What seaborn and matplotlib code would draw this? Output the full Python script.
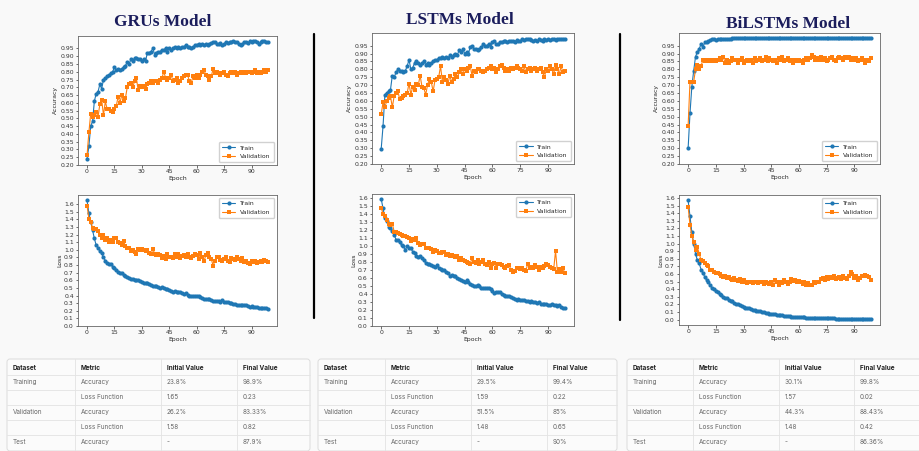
import numpy as np
import pandas as pd
import matplotlib
matplotlib.use("Agg")
import matplotlib.pyplot as plt
from matplotlib.patches import FancyBboxPatch
import seaborn as sns

# ---------------- training histories (100 epochs each) ----------------
gru_train_acc = [
    0.238, 0.32, 0.45, 0.48, 0.61, 0.66, 0.67, 0.72, 0.69, 0.75,
    0.76, 0.77, 0.78, 0.79, 0.80, 0.83, 0.81, 0.82, 0.81, 0.82,
    0.83, 0.84, 0.86, 0.85, 0.88, 0.87, 0.89, 0.89, 0.88, 0.88,
    0.87, 0.88, 0.87, 0.92, 0.92, 0.93, 0.95, 0.91, 0.92, 0.93,
    0.93, 0.94, 0.94, 0.95, 0.93, 0.95, 0.94, 0.95, 0.96, 0.95,
    0.96, 0.95, 0.96, 0.96, 0.97, 0.96, 0.96, 0.95, 0.96, 0.97,
    0.97, 0.98, 0.97, 0.98, 0.97, 0.98, 0.97, 0.98, 0.985, 0.99,
    0.99, 0.98, 0.98, 0.985, 0.97, 0.98, 0.99, 0.985, 0.99, 0.99,
    0.995, 0.99, 0.99, 0.98, 0.97, 0.98, 0.99, 0.99, 0.985, 0.995,
    0.99, 1.00, 0.995, 0.99, 0.98, 0.99, 1.00, 0.995, 0.99, 0.989,
]
gru_val_acc = [
    0.262, 0.41, 0.53, 0.51, 0.52, 0.54, 0.51, 0.59, 0.62, 0.52,
    0.61, 0.56, 0.56, 0.55, 0.54, 0.56, 0.58, 0.64, 0.60, 0.65,
    0.61, 0.63, 0.70, 0.72, 0.73, 0.70, 0.74, 0.76, 0.68, 0.71,
    0.70, 0.71, 0.69, 0.72, 0.73, 0.74, 0.73, 0.74, 0.74, 0.73,
    0.75, 0.76, 0.80, 0.76, 0.75, 0.76, 0.78, 0.74, 0.75, 0.76,
    0.73, 0.74, 0.76, 0.77, 0.78, 0.78, 0.74, 0.73, 0.77, 0.76,
    0.78, 0.76, 0.78, 0.80, 0.81, 0.78, 0.77, 0.75, 0.77, 0.82,
    0.79, 0.80, 0.79, 0.78, 0.79, 0.80, 0.78, 0.77, 0.79, 0.80,
    0.79, 0.80, 0.78, 0.79, 0.80, 0.79, 0.80, 0.79, 0.80, 0.80,
    0.79, 0.80, 0.81, 0.79, 0.80, 0.79, 0.80, 0.81, 0.80, 0.81,
]
gru_train_loss = [
    1.65, 1.48, 1.37, 1.26, 1.15, 1.06, 1.03, 0.99, 0.96, 0.90,
    0.86, 0.83, 0.82, 0.81, 0.78, 0.76, 0.74, 0.71, 0.70, 0.69,
    0.67, 0.65, 0.64, 0.63, 0.62, 0.62, 0.60, 0.61, 0.60, 0.59,
    0.58, 0.57, 0.56, 0.56, 0.55, 0.54, 0.53, 0.52, 0.52, 0.51,
    0.50, 0.51, 0.50, 0.49, 0.48, 0.47, 0.46, 0.45, 0.46, 0.45,
    0.44, 0.44, 0.43, 0.42, 0.43, 0.41, 0.40, 0.39, 0.39, 0.40,
    0.40, 0.39, 0.38, 0.37, 0.36, 0.36, 0.35, 0.35, 0.34, 0.33,
    0.33, 0.33, 0.33, 0.32, 0.34, 0.32, 0.31, 0.31, 0.30, 0.30,
    0.29, 0.29, 0.28, 0.28, 0.27, 0.28, 0.28, 0.27, 0.26, 0.25,
    0.26, 0.25, 0.25, 0.25, 0.24, 0.24, 0.24, 0.23, 0.23, 0.22,
]
gru_val_loss = [
    1.58, 1.41, 1.37, 1.29, 1.28, 1.27, 1.25, 1.19, 1.15, 1.20,
    1.13, 1.15, 1.10, 1.13, 1.10, 1.15, 1.16, 1.10, 1.09, 1.07,
    1.11, 1.05, 1.03, 1.02, 0.98, 1.00, 0.97, 0.95, 1.01, 1.00,
    1.01, 1.00, 0.98, 1.00, 0.96, 0.94, 1.01, 0.95, 0.93, 0.94,
    0.93, 0.89, 0.92, 0.88, 0.94, 0.90, 0.91, 0.89, 0.95, 0.91,
    0.94, 0.89, 0.92, 0.93, 0.90, 0.94, 0.91, 0.89, 0.92, 0.95,
    0.93, 0.88, 0.96, 0.90, 0.85, 0.93, 0.96, 0.91, 0.88, 0.79,
    0.86, 0.91, 0.90, 0.87, 0.85, 0.88, 0.90, 0.86, 0.84, 0.89,
    0.88, 0.87, 0.90, 0.88, 0.86, 0.89, 0.84, 0.86, 0.83, 0.82,
    0.85, 0.84, 0.85, 0.83, 0.84, 0.85, 0.84, 0.87, 0.86, 0.84,
]

lstm_train_acc = [
    0.295, 0.44, 0.64, 0.65, 0.66, 0.67, 0.76, 0.75, 0.78, 0.80,
    0.79, 0.79, 0.78, 0.79, 0.82, 0.86, 0.80, 0.81, 0.84, 0.85,
    0.84, 0.83, 0.84, 0.85, 0.83, 0.84, 0.83, 0.84, 0.85, 0.86,
    0.86, 0.87, 0.87, 0.88, 0.87, 0.88, 0.87, 0.89, 0.88, 0.89,
    0.90, 0.89, 0.92, 0.91, 0.93, 0.90, 0.91, 0.90, 0.94, 0.95,
    0.93, 0.93, 0.92, 0.93, 0.94, 0.96, 0.95, 0.95, 0.96, 0.94,
    0.97, 0.98, 0.96, 0.96, 0.97, 0.97, 0.98, 0.98, 0.97, 0.98,
    0.98, 0.98, 0.975, 0.985, 0.98, 0.98, 0.99, 0.985, 0.99, 0.995,
    0.99, 0.985, 0.98, 0.985, 0.98, 0.99, 0.985, 0.98, 0.99, 0.985,
    0.99, 0.985, 0.99, 0.99, 0.985, 0.99, 0.995, 0.99, 0.99, 0.994,
]
lstm_val_acc = [
    0.515, 0.59, 0.56, 0.60, 0.62, 0.63, 0.56, 0.63, 0.65, 0.66,
    0.61, 0.62, 0.63, 0.64, 0.65, 0.71, 0.64, 0.69, 0.67, 0.71,
    0.70, 0.76, 0.69, 0.68, 0.64, 0.70, 0.74, 0.72, 0.66, 0.73,
    0.74, 0.75, 0.82, 0.72, 0.75, 0.73, 0.71, 0.76, 0.72, 0.74,
    0.77, 0.75, 0.78, 0.80, 0.77, 0.80, 0.79, 0.81, 0.82, 0.76,
    0.79, 0.78, 0.80, 0.80, 0.79, 0.78, 0.79, 0.80, 0.81, 0.82,
    0.80, 0.81, 0.78, 0.80, 0.82, 0.83, 0.81, 0.79, 0.80, 0.79,
    0.81, 0.80, 0.81, 0.82, 0.81, 0.80, 0.79, 0.82, 0.78, 0.80,
    0.81, 0.79, 0.80, 0.81, 0.79, 0.80, 0.81, 0.78, 0.75, 0.80,
    0.79, 0.82, 0.80, 0.77, 0.83, 0.80, 0.77, 0.82, 0.78, 0.79,
]
lstm_train_loss = [
    1.59, 1.47, 1.35, 1.31, 1.24, 1.22, 1.19, 1.14, 1.08, 1.07,
    1.05, 1.01, 1.00, 0.95, 1.00, 0.97, 0.97, 0.93, 0.91, 0.88,
    0.86, 0.87, 0.85, 0.82, 0.79, 0.77, 0.78, 0.76, 0.75, 0.74,
    0.76, 0.72, 0.71, 0.70, 0.70, 0.68, 0.66, 0.63, 0.64, 0.63,
    0.62, 0.60, 0.59, 0.57, 0.56, 0.55, 0.57, 0.55, 0.53, 0.51,
    0.50, 0.50, 0.51, 0.50, 0.48, 0.47, 0.48, 0.47, 0.48, 0.46,
    0.44, 0.41, 0.43, 0.42, 0.42, 0.40, 0.39, 0.38, 0.37, 0.38,
    0.36, 0.35, 0.34, 0.33, 0.34, 0.33, 0.32, 0.32, 0.31, 0.31,
    0.30, 0.31, 0.30, 0.30, 0.29, 0.30, 0.28, 0.28, 0.27, 0.27,
    0.26, 0.26, 0.27, 0.26, 0.26, 0.25, 0.26, 0.24, 0.23, 0.22,
]
lstm_val_loss = [
    1.48, 1.40, 1.38, 1.33, 1.28, 1.26, 1.28, 1.18, 1.17, 1.16,
    1.15, 1.14, 1.13, 1.12, 1.11, 1.10, 1.06, 1.09, 1.07, 1.10,
    1.04, 1.01, 1.02, 1.03, 0.98, 0.97, 0.98, 0.96, 0.92, 0.95,
    0.94, 0.91, 0.91, 0.92, 0.93, 0.89, 0.90, 0.88, 0.89, 0.87,
    0.86, 0.87, 0.82, 0.85, 0.83, 0.81, 0.80, 0.79, 0.78, 0.85,
    0.80, 0.79, 0.83, 0.78, 0.80, 0.82, 0.77, 0.76, 0.80, 0.72,
    0.78, 0.79, 0.72, 0.77, 0.78, 0.76, 0.74, 0.73, 0.75, 0.76,
    0.70, 0.68, 0.69, 0.72, 0.73, 0.71, 0.72, 0.70, 0.69, 0.78,
    0.73, 0.74, 0.72, 0.76, 0.74, 0.70, 0.74, 0.73, 0.75, 0.78,
    0.76, 0.74, 0.72, 0.71, 0.94, 0.68, 0.71, 0.68, 0.72, 0.66,
]

bilstm_train_acc = [
    0.301, 0.52, 0.69, 0.79, 0.88, 0.91, 0.93, 0.96, 0.94, 0.97,
    0.975, 0.98, 0.985, 0.99, 0.99, 0.985, 0.99, 0.99, 0.995, 0.99,
    0.995, 0.99, 0.995, 0.995, 0.997, 0.997, 0.997, 0.997, 0.997, 0.997,
    0.997, 0.998, 0.997, 0.997, 0.998, 0.997, 0.997, 0.997, 0.998, 0.997,
    0.997, 0.997, 0.998, 0.997, 0.997, 0.997, 0.998, 0.997, 0.997, 0.998,
    0.997, 0.997, 0.997, 0.998, 0.997, 0.997, 0.998, 0.997, 0.997, 0.997,
    0.998, 0.997, 0.997, 0.998, 0.997, 0.997, 0.997, 0.998, 0.997, 0.997,
    0.998, 0.997, 0.997, 0.997, 0.998, 0.997, 0.997, 0.998, 0.997, 0.997,
    0.997, 0.998, 0.997, 0.997, 0.998, 0.997, 0.997, 0.997, 0.998, 0.997,
    0.997, 0.998, 0.997, 0.997, 0.997, 0.998, 0.997, 0.997, 0.998, 0.998,
]
bilstm_val_acc = [
    0.443, 0.72, 0.72, 0.72, 0.80, 0.83, 0.80, 0.82, 0.86, 0.85,
    0.86, 0.85, 0.86, 0.85, 0.86, 0.85, 0.86, 0.87, 0.86, 0.88,
    0.84, 0.86, 0.84, 0.85, 0.87, 0.86, 0.86, 0.84, 0.86, 0.87,
    0.84, 0.85, 0.86, 0.85, 0.86, 0.84, 0.87, 0.85, 0.86, 0.87,
    0.85, 0.86, 0.88, 0.85, 0.87, 0.86, 0.85, 0.86, 0.84, 0.87,
    0.86, 0.88, 0.85, 0.86, 0.87, 0.85, 0.86, 0.84, 0.86, 0.85,
    0.86, 0.85, 0.84, 0.86, 0.87, 0.86, 0.87, 0.89, 0.88, 0.86,
    0.87, 0.86, 0.88, 0.86, 0.87, 0.85, 0.86, 0.87, 0.88, 0.86,
    0.85, 0.87, 0.88, 0.87, 0.86, 0.88, 0.87, 0.88, 0.86, 0.87,
    0.86, 0.87, 0.85, 0.86, 0.87, 0.86, 0.84, 0.86, 0.85, 0.87,
]
bilstm_train_loss = [
    1.57, 1.36, 1.15, 1.00, 0.87, 0.78, 0.74, 0.66, 0.62, 0.56,
    0.52, 0.49, 0.45, 0.42, 0.40, 0.38, 0.37, 0.34, 0.32, 0.30,
    0.29, 0.28, 0.26, 0.25, 0.24, 0.22, 0.21, 0.20, 0.19, 0.18,
    0.17, 0.16, 0.16, 0.15, 0.14, 0.13, 0.13, 0.12, 0.11, 0.11,
    0.10, 0.095, 0.09, 0.085, 0.08, 0.08, 0.075, 0.07, 0.065, 0.06,
    0.06, 0.055, 0.05, 0.05, 0.045, 0.045, 0.04, 0.04, 0.038, 0.035,
    0.035, 0.033, 0.03, 0.03, 0.028, 0.027, 0.026, 0.025, 0.024, 0.023,
    0.022, 0.021, 0.02, 0.02, 0.019, 0.018, 0.018, 0.017, 0.016, 0.016,
    0.015, 0.015, 0.014, 0.014, 0.013, 0.013, 0.012, 0.012, 0.011, 0.011,
    0.010, 0.010, 0.010, 0.009, 0.009, 0.009, 0.008, 0.008, 0.008, 0.008,
]
bilstm_val_loss = [
    1.48, 1.25, 1.10, 1.02, 0.92, 0.95, 0.87, 0.78, 0.77, 0.74,
    0.72, 0.70, 0.66, 0.65, 0.63, 0.61, 0.62, 0.60, 0.57, 0.56,
    0.58, 0.55, 0.56, 0.53, 0.52, 0.55, 0.52, 0.51, 0.54, 0.50,
    0.52, 0.50, 0.48, 0.50, 0.49, 0.48, 0.50, 0.49, 0.48, 0.50,
    0.49, 0.47, 0.50, 0.48, 0.47, 0.50, 0.46, 0.52, 0.49, 0.46,
    0.50, 0.48, 0.52, 0.50, 0.47, 0.49, 0.53, 0.51, 0.52, 0.49,
    0.51, 0.50, 0.47, 0.49, 0.46, 0.48, 0.45, 0.46, 0.50, 0.48,
    0.49, 0.50, 0.53, 0.55, 0.52, 0.56, 0.54, 0.56, 0.55, 0.57,
    0.54, 0.55, 0.56, 0.54, 0.57, 0.55, 0.53, 0.58, 0.63, 0.60,
    0.55, 0.57, 0.52, 0.55, 0.58, 0.57, 0.59, 0.58, 0.56, 0.52,
]

# ---------------- summary tables ----------------
table_header = ["Dataset", "Metric", "Initial Value", "Final Value"]
table_datasets = ["Training", "", "Validation", "", "Test"]
table_metrics = ["Accuracy", "Loss Function", "Accuracy", "Loss Function", "Accuracy"]
gru_initial = ["23.8%", "1.65", "26.2%", "1.58", "-"]
gru_final = ["98.9%", "0.23", "83.33%", "0.82", "87.9%"]
lstm_initial = ["29.5%", "1.59", "51.5%", "1.48", "-"]
lstm_final = ["99.4%", "0.22", "85%", "0.65", "90%"]
bilstm_initial = ["30.1%", "1.57", "44.3%", "1.48", "-"]
bilstm_final = ["99.8%", "0.02", "88.43%", "0.42", "86.36%"]

model_titles = ["GRUs Model", "LSTMs Model", "BiLSTMs Model"]
acc_ticks = [0.20, 0.25, 0.30, 0.35, 0.40, 0.45, 0.50, 0.55, 0.60, 0.65,
             0.70, 0.75, 0.80, 0.85, 0.90, 0.95]
loss_ticks = [0.0, 0.1, 0.2, 0.3, 0.4, 0.5, 0.6, 0.7, 0.8, 0.9, 1.0,
              1.1, 1.2, 1.3, 1.4, 1.5, 1.6]
epoch_ticks = [0, 15, 30, 45, 60, 75, 90]

# ---------------- styling ----------------
sns.set_style("ticks")
plt.rcParams["font.family"] = ["DejaVu Sans"]
FS = 4.4
BLUE = "#1f77b4"
ORANGE = "#ff7f0e"
W, H = 920, 451

fig = plt.figure(figsize=(W / 100, H / 100), dpi=100)
fig.patch.set_facecolor("#f9f9f9")

# overlay in pixel coordinates for titles, separators and tables
over = fig.add_axes([0, 0, 1, 1], zorder=0)
over.set_xlim(0, W)
over.set_ylim(H, 0)
over.axis("off")


def px_axes(l, t, r, b):
    return fig.add_axes([l / W, 1 - b / H, (r - l) / W, (b - t) / H], zorder=2)


def history_frame(train, val):
    n = len(train)
    return pd.DataFrame({
        "Epoch": list(range(n)) * 2,
        "value": list(train) + list(val),
        "series": ["Train"] * n + ["Validation"] * n,
    })


def draw_history(ax, train, val, ylabel, yticks, ylim, legend_loc):
    df = history_frame(train, val)
    sns.lineplot(data=df, x="Epoch", y="value", hue="series", style="series",
                 markers={"Train": "o", "Validation": "s"}, dashes=False,
                 palette={"Train": BLUE, "Validation": ORANGE},
                 markersize=3.0, markeredgewidth=0, linewidth=0.8, ax=ax)
    ax.set_facecolor("white")
    ax.set_xlim(-4.95, 103.95)
    ax.set_ylim(*ylim)
    ax.set_xticks(epoch_ticks)
    ax.set_yticks(yticks)
    ax.set_yticklabels([f"{t:.2f}" if ylabel == "Accuracy" else f"{t:.1f}" for t in yticks])
    ax.set_xlabel("Epoch", fontsize=FS, labelpad=1)
    ax.set_ylabel(ylabel, fontsize=FS, labelpad=1.5)
    ax.tick_params(labelsize=FS, length=1.8, width=0.5, pad=1.2, colors="#333333")
    for s in ax.spines.values():
        s.set_linewidth(0.6)
        s.set_color("#666666")
    ax.legend(loc=legend_loc, fontsize=FS, frameon=True, fancybox=True,
              handlelength=2.2, borderpad=0.5, labelspacing=0.5, framealpha=0.9)


def draw_table(x_edges, col_text_x, top, initial, final):
    left, right = x_edges
    bottom = top + 92
    over.add_patch(FancyBboxPatch((left, top), right - left, bottom - top,
                                  boxstyle="round,pad=0,rounding_size=3",
                                  facecolor="#fbfbfb", edgecolor="#dcdcdc",
                                  linewidth=0.7, zorder=1))
    row_h = 15
    for i in range(1, 6):
        y = top + 15.5 + (i - 1) * row_h
        over.plot([left, right], [y, y], color="#e3e3e3", lw=0.6, zorder=2)
    for cx in col_text_x[1:]:
        vx = cx - 5.5
        over.plot([vx, vx], [top, bottom], color="#e3e3e3", lw=0.6, zorder=2)
    for j, h in enumerate(table_header):
        over.text(col_text_x[j], top + 8.5, h, fontsize=4.6, fontweight="bold",
                  color="#222222", va="center", ha="left", family="Inter", zorder=3)
    for i in range(5):
        y = top + 23 + i * row_h
        row = [table_datasets[i], table_metrics[i], initial[i], final[i]]
        for j, v in enumerate(row):
            over.text(col_text_x[j], y, v, fontsize=4.6, color="#666666",
                      va="center", ha="left", family="Inter", zorder=3)


# titles
title_pos = [(163, 22), (460, 20), (788, 24)]
for name, (tx, ty) in zip(model_titles, title_pos):
    over.text(tx, ty, name, fontsize=12.5, fontweight="bold", color="#1b1d5c",
              family="Liberation Serif", ha="center", va="center")

# column separators
over.plot([314, 314], [34, 318], color="black", lw=1.6)
over.plot([620, 620], [34, 320], color="black", lw=1.6)

# accuracy plots
acc_boxes = [(78, 36, 277, 165), (372, 33, 574, 164), (679, 33, 880, 164)]
loss_boxes = [(78, 195, 277, 326), (372, 194, 574, 326), (679, 195, 880, 325)]
acc_sets = [(gru_train_acc, gru_val_acc), (lstm_train_acc, lstm_val_acc),
            (bilstm_train_acc, bilstm_val_acc)]
loss_sets = [(gru_train_loss, gru_val_loss), (lstm_train_loss, lstm_val_loss),
             (bilstm_train_loss, bilstm_val_loss)]
loss_lims = [(0.0, 1.72), (0.0, 1.65), (-0.07, 1.64)]

for box, (tr, va) in zip(acc_boxes, acc_sets):
    ax = px_axes(*box)
    draw_history(ax, tr, va, "Accuracy", acc_ticks, (0.2, 1.03), "lower right")

for box, (tr, va), lim in zip(loss_boxes, loss_sets, loss_lims):
    ax = px_axes(*box)
    draw_history(ax, tr, va, "Loss", loss_ticks, lim, "upper right")

# tables
draw_table((7, 310), [13, 81, 167, 243], 359, gru_initial, gru_final)
draw_table((318, 617), [324, 391, 477, 553], 359, lstm_initial, lstm_final)
draw_table((627, 925), [633, 699, 785, 860], 359, bilstm_initial, bilstm_final)

fig.savefig("out.png", dpi=100, facecolor=fig.get_facecolor())
